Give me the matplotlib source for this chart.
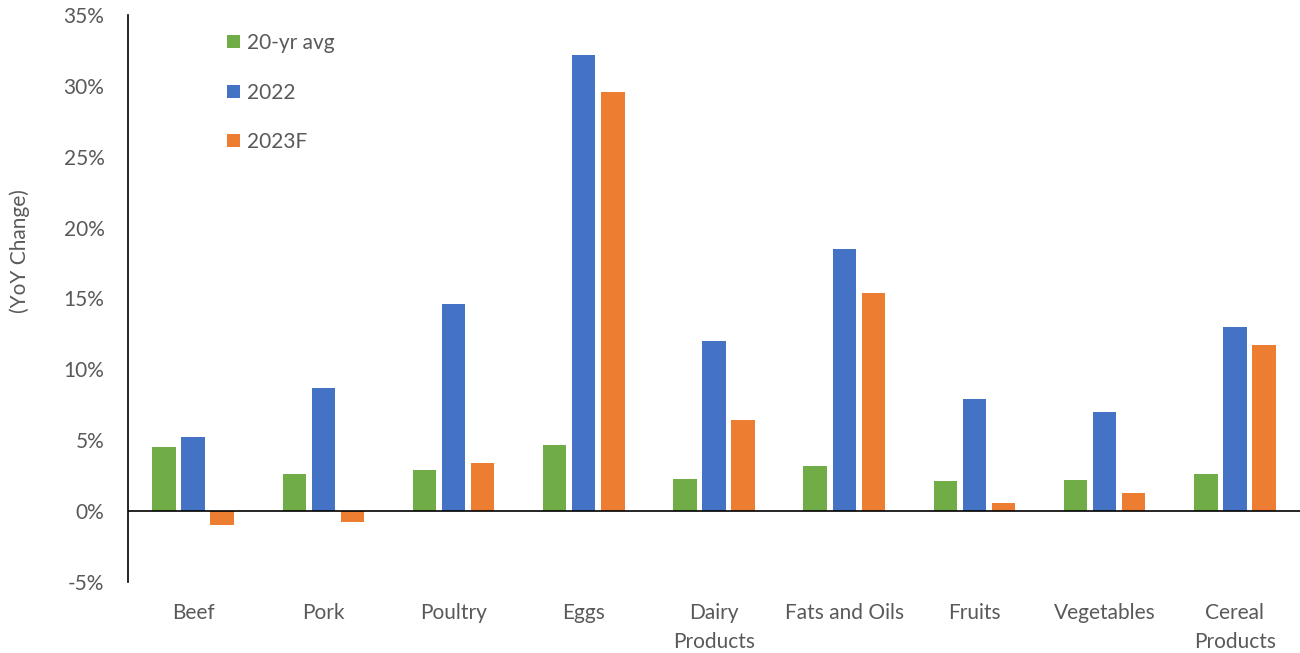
import matplotlib
matplotlib.use("Agg")
import matplotlib.pyplot as plt
import numpy as np
from matplotlib.patches import Patch
from matplotlib.ticker import FuncFormatter

categories = ["Beef", "Pork", "Poultry", "Eggs", "Dairy\nProducts", "Fats and Oils",
              "Fruits", "Vegetables", "Cereal\nProducts"]
avg_20yr = [4.5, 2.6, 2.9, 4.7, 2.3, 3.2, 2.1, 2.2, 2.6]
y2022 = [5.2, 8.7, 14.6, 32.2, 12.0, 18.5, 7.9, 7.0, 13.0]
y2023f = [-1.0, -0.8, 3.4, 29.6, 6.4, 15.4, 0.6, 1.3, 11.7]
series_names = ["20-yr avg", "2022", "2023F"]
y_ticks = [-5, 0, 5, 10, 15, 20, 25, 30, 35]

colors = ["#70AD47", "#4472C4", "#ED7D31"]
text_gray = "#595959"
fs = 15
plt.rcParams["font.family"] = ["Lato", "DejaVu Sans"]

fig = plt.figure(figsize=(13, 6.53), dpi=100)
ax = fig.add_axes([128 / 1300, 1 - 582 / 653, 1 - 128 / 1300, (582 - 15) / 653])

x = np.arange(len(categories))
stride = 0.223
width = 0.18
for i, (vals, c) in enumerate(zip([avg_20yr, y2022, y2023f], colors)):
    ax.bar(x + (i - 1) * stride, vals, width=width, color=c, zorder=2)

ax.axhline(0, color="black", lw=1.2, zorder=3)
ax.set_xlim(-0.5, len(categories) - 0.5)
ax.set_ylim(-5, 35)
ax.set_yticks(y_ticks)
ax.yaxis.set_major_formatter(FuncFormatter(lambda v, p: f"{int(v)}%"))
ax.set_xticks(x)
ax.set_xticklabels(categories, linespacing=1.6)

for s in ["top", "right", "bottom"]:
    ax.spines[s].set_visible(False)
ax.spines["left"].set_color("black")
ax.spines["left"].set_linewidth(1.2)
ax.tick_params(axis="y", length=0, pad=17, labelsize=fs, labelcolor=text_gray)
ax.tick_params(axis="x", length=0, pad=15, labelsize=fs, labelcolor=text_gray)

fig.text(20 / 1300, 1 - 251 / 653, "(YoY Change)", rotation=90, ha="center", va="center",
         fontsize=fs, color=text_gray)

handles = [Patch(facecolor=c, edgecolor="none") for c in colors]
leg = fig.legend(handles, series_names, loc="upper left",
                 bbox_to_anchor=(227 / 1300, 1 - 33 / 653), frameon=False,
                 fontsize=fs, labelspacing=1.42, handlelength=0.6, handleheight=0.6,
                 handletextpad=0.35, borderaxespad=0, borderpad=0)
for t in leg.get_texts():
    t.set_color(text_gray)

fig.savefig("out.png", dpi=100, facecolor="white")
